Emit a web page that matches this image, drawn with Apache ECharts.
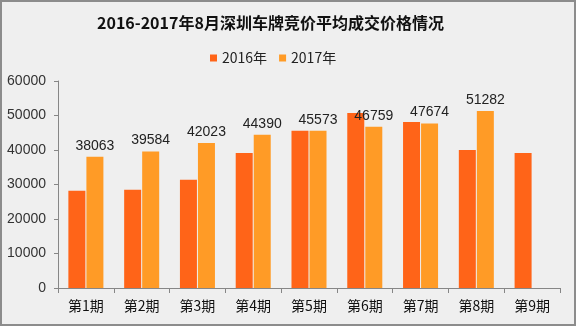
<!DOCTYPE html>
<html><head><meta charset="utf-8">
<script src="https://cdn.jsdelivr.net/npm/echarts@6/dist/echarts.min.js"></script>
<style>html,body{margin:0;padding:0;background:#efefef}#c{width:576px;height:326px}</style>
</head><body><div id="c"></div>
<script>
const titleText = '2016-2017年8月深圳车牌竞价平均成交价格情况';
const categories = ['第1期','第2期','第3期','第4期','第5期','第6期','第7期','第8期','第9期'];
const seriesNames = ['2016年','2017年'];
const values2016 = [28200, 28500, 31400, 39100, 45600, 50700, 48100, 40000, 39100];
const values2017 = [38063, 39584, 42023, 44390, 45573, 46759, 47674, 51282, null];
const yTicks = [0, 10000, 20000, 30000, 40000, 50000, 60000];

const chart = echarts.init(document.getElementById('c'), null, {renderer:'canvas'});
const axisColor = '#868686';
chart.setOption({
  backgroundColor: '#efefef',
  animation: false,
  title: {
    text: titleText, left: 92, top: 10,
    textStyle: {fontFamily: '"Noto Sans CJK SC"', fontWeight: 'bold', fontSize: 16, color: '#111'}
  },
  legend: {
    data: seriesNames, left: 205, top: 46, itemWidth: 7, itemHeight: 7, itemGap: 12,
    icon: 'rect',
    textStyle: {fontFamily: '"Noto Sans CJK SC"', fontSize: 14, color: '#222'}
  },
  graphic: [{type:'rect', shape:{x:1, y:1, width:574, height:324}, style:{fill:'none', stroke:'#8c8c8c', lineWidth:2}, silent:true}],
  grid: {left: 58, right: 16, top: 81, bottom: 38},
  xAxis: {
    type: 'category', data: categories,
    axisLine: {lineStyle: {color: axisColor}},
    axisTick: {show: true, alignWithLabel: false, length: 5, lineStyle: {color: axisColor}},
    axisLabel: {margin: 11, fontSize: 14, color: '#111', fontFamily: '"Noto Sans CJK SC"'}
  },
  yAxis: {
    type: 'value', min: yTicks[0], max: yTicks[yTicks.length-1], interval: yTicks[1]-yTicks[0],
    axisLine: {show: true, lineStyle: {color: axisColor}},
    axisTick: {show: true, length: 4, lineStyle: {color: axisColor}},
    splitLine: {show: false},
    axisLabel: {margin: 12, fontSize: 14, color: '#333', fontFamily: 'Arial, "Liberation Sans"',
      formatter: v => String(v)}
  },
  series: [
    {name: seriesNames[0], type: 'bar', data: values2016, barWidth: 17, barGap: '6%',
     itemStyle: {color: '#FF6418'}},
    {name: seriesNames[1], type: 'bar', data: values2017, barWidth: 17,
     itemStyle: {color: '#FF9B26'},
     label: {show: true, position: 'top', distance: 4, fontSize: 14, color: '#222', fontFamily: 'Arial, "Liberation Sans"'}}
  ]
});
</script></body></html>
